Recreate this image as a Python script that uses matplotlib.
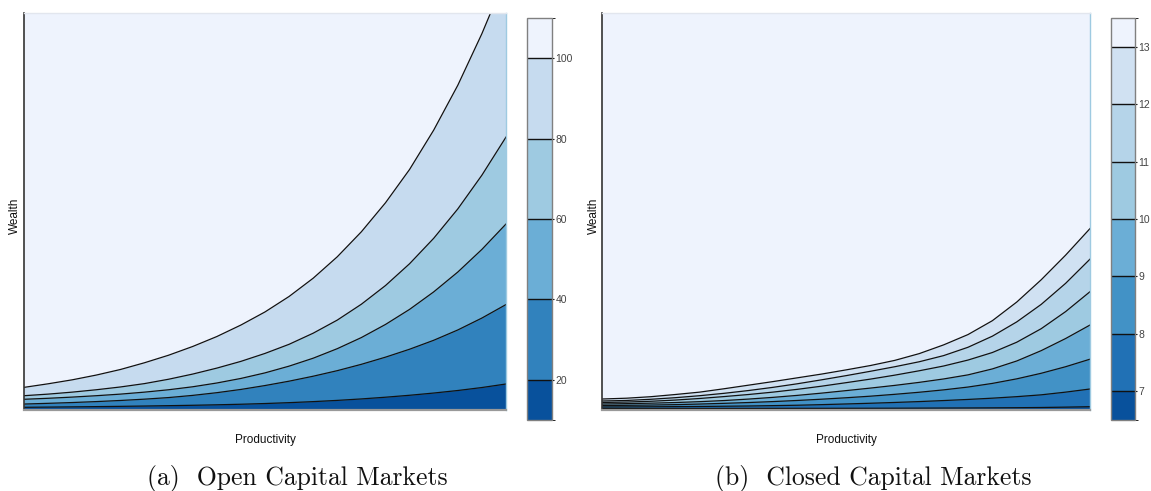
import numpy as np
import matplotlib
matplotlib.use("Agg")
import matplotlib.pyplot as plt
from matplotlib.colors import ListedColormap, BoundaryNorm
from matplotlib.cm import ScalarMappable

# ---------------------------------------------------------------------------
# Data: productivity grid (normalised) and wealth thresholds of each contour
# ---------------------------------------------------------------------------
productivity = [0.00, 0.05, 0.10, 0.15, 0.20, 0.25, 0.30, 0.35, 0.40, 0.45, 0.50,
                0.55, 0.60, 0.65, 0.70, 0.75, 0.80, 0.85, 0.90, 0.95, 1.00]

# (a) open capital markets: wealth at which the value reaches each level
open_levels = [20, 40, 60, 80, 100]
open_bounds = [10, 20, 40, 60, 80, 100, 110]
open_w20 = [0.0068, 0.0073, 0.0079, 0.0085, 0.0092, 0.0100, 0.0109, 0.0119, 0.0131, 0.0145, 0.0163,
            0.0185, 0.0211, 0.0242, 0.0279, 0.0322, 0.0371, 0.0427, 0.0491, 0.0566, 0.0655]
open_w40 = [0.0150, 0.0168, 0.0188, 0.0212, 0.0240, 0.0273, 0.0313, 0.0368, 0.0436, 0.0518, 0.0616,
            0.0726, 0.0851, 0.0991, 0.1151, 0.1331, 0.1531, 0.1756, 0.2016, 0.2316, 0.2656]
open_w60 = [0.0270, 0.0295, 0.0325, 0.0360, 0.0400, 0.0450, 0.0510, 0.0585, 0.0680, 0.0795, 0.0935,
            0.1105, 0.1305, 0.1545, 0.1825, 0.2155, 0.2535, 0.2975, 0.3475, 0.4045, 0.4685]
open_w80 = [0.0360, 0.0400, 0.0450, 0.0510, 0.0580, 0.0665, 0.0775, 0.0905, 0.1055, 0.1225, 0.1425,
            0.1655, 0.1935, 0.2265, 0.2665, 0.3135, 0.3685, 0.4325, 0.5065, 0.5915, 0.6875]
open_w100 = [0.057, 0.066, 0.076, 0.088, 0.102, 0.119, 0.138, 0.160, 0.185, 0.214, 0.247,
             0.286, 0.332, 0.386, 0.449, 0.522, 0.606, 0.705, 0.818, 0.948, 1.093]
open_colors = ["#08519c", "#3182bd", "#6baed6", "#9ecae1", "#c6dbef", "#eef3fd"]

# (b) closed capital markets
closed_levels = [7, 8, 9, 10, 11, 12, 13]
closed_bounds = [6.5, 7, 8, 9, 10, 11, 12, 13, 13.5]
closed_w7 = [0.0038, 0.0038, 0.0038, 0.0039, 0.0039, 0.0040, 0.0040, 0.0041, 0.0042, 0.0042, 0.0043,
             0.0044, 0.0045, 0.0047, 0.0049, 0.0051, 0.0054, 0.0058, 0.0063, 0.0072, 0.0083]
closed_w8 = [0.0076, 0.0078, 0.0081, 0.0085, 0.0089, 0.0095, 0.0101, 0.0110, 0.0120, 0.0135, 0.0152,
             0.0170, 0.0190, 0.0212, 0.0238, 0.0266, 0.0298, 0.0336, 0.0382, 0.0450, 0.0529]
closed_w9 = [0.0113, 0.0118, 0.0125, 0.0135, 0.0150, 0.0168, 0.0188, 0.0212, 0.0240, 0.0272, 0.0308,
             0.0348, 0.0395, 0.0447, 0.0507, 0.0578, 0.0670, 0.0785, 0.0925, 0.1090, 0.1280]
closed_w10 = [0.0151, 0.0160, 0.0172, 0.0188, 0.0210, 0.0238, 0.0275, 0.0318, 0.0368, 0.0425, 0.0488,
              0.0552, 0.0620, 0.0696, 0.0782, 0.0885, 0.1035, 0.1235, 0.1495, 0.1800, 0.2140]
closed_w11 = [0.0189, 0.0200, 0.0220, 0.0250, 0.0290, 0.0338, 0.0390, 0.0450, 0.0520, 0.0600, 0.0688,
              0.0778, 0.0878, 0.0988, 0.1108, 0.1258, 0.1448, 0.1708, 0.2048, 0.2478, 0.2980]
closed_w12 = [0.0227, 0.0240, 0.0270, 0.0310, 0.0360, 0.0420, 0.0490, 0.0570, 0.0660, 0.0760, 0.0865,
              0.0975, 0.1090, 0.1215, 0.1370, 0.1580, 0.1860, 0.2220, 0.2660, 0.3190, 0.3800]
closed_w13 = [0.0277, 0.0297, 0.0335, 0.0390, 0.0450, 0.0535, 0.0625, 0.0715, 0.0810, 0.0905, 0.1010,
              0.1120, 0.1250, 0.1420, 0.1640, 0.1900, 0.2250, 0.2720, 0.3280, 0.3900, 0.4570]
closed_colors = ["#08519c", "#2171b5", "#4292c6", "#6baed6", "#9ecae1", "#b5d4e9",
                 "#d0e1f2", "#eef3fd"]

W = 1151.0
H = 491.0
fig = plt.figure(figsize=(W / 100, H / 100), dpi=100)


def box(x0, y0, x1, y1):
    """Axes rectangle from pixel edges (top-left origin)."""
    return [x0 / W, 1 - y1 / H, (x1 - x0) / W, (y1 - y0) / H]


def draw_panel(ax, x, curves, colors):
    x = np.asarray(x)
    ax.set_facecolor(colors[-1])
    # paint from the highest contour downwards so bands never leave seams
    for c, col in reversed(list(zip(curves, colors[:-1]))):
        ax.fill_between(x, 0, np.asarray(c), color=col, lw=0, zorder=1)
    for c in curves:
        ax.plot(x, c, color="#111111", lw=0.9, zorder=2, solid_joinstyle="round")
    ax.set_xlim(0, 1)
    ax.set_ylim(0, 1)
    ax.set_xticks([])
    ax.set_yticks([])
    ax.spines["left"].set_color("#333333")
    ax.spines["left"].set_linewidth(1.2)
    ax.spines["bottom"].set_color("#999999")
    ax.spines["bottom"].set_linewidth(1.6)
    ax.spines["top"].set_color("#e2e6ee")
    ax.spines["top"].set_linewidth(1.0)
    ax.spines["right"].set_color("#9ecae1")
    ax.spines["right"].set_linewidth(1.0)


def draw_colorbar(cax, colors, bounds, levels):
    cmap = ListedColormap(colors)
    norm = BoundaryNorm(bounds, cmap.N)
    cb = fig.colorbar(ScalarMappable(norm=norm, cmap=cmap), cax=cax,
                      boundaries=bounds, spacing="proportional", ticks=levels)
    cb.outline.set_edgecolor("#808080")
    cb.outline.set_linewidth(1.0)
    for lv in levels:
        cax.axhline(lv, color="#111111", lw=1.0)
    cax.tick_params(length=1.5, width=0.8, color="#111111", pad=1.0,
                    labelsize=7.5, labelcolor="#444444")
    for t in cax.get_yticklabels():
        t.set_fontfamily("Liberation Sans")
    return cb


label_font = dict(family="Liberation Sans", size=8.5, color="#111111")
caption_font = dict(family="cmr10", size=18.5, color="#111111")

# (a) Open capital markets
ax_a = fig.add_axes(box(24, 13, 506, 410))
draw_panel(ax_a, productivity,
           [open_w20, open_w40, open_w60, open_w80, open_w100], open_colors)
cax_a = fig.add_axes(box(527, 18, 552, 420))
draw_colorbar(cax_a, open_colors, open_bounds, open_levels)
fig.text(15 / W, 1 - 216 / H, "Wealth", rotation=90, ha="center", va="center", **label_font)
fig.text(265 / W, 1 - 440 / H, "Productivity", ha="center", va="center", **label_font)
fig.text(297 / W, 1 - 478 / H, "(a)  Open Capital Markets", ha="center", va="center",
         **caption_font)

# (b) Closed capital markets
ax_b = fig.add_axes(box(602, 13, 1090, 410))
draw_panel(ax_b, productivity,
           [closed_w7, closed_w8, closed_w9, closed_w10, closed_w11, closed_w12, closed_w13],
           closed_colors)
cax_b = fig.add_axes(box(1111, 18, 1135, 420))
draw_colorbar(cax_b, closed_colors, closed_bounds, closed_levels)
fig.text(594 / W, 1 - 216 / H, "Wealth", rotation=90, ha="center", va="center", **label_font)
fig.text(846 / W, 1 - 440 / H, "Productivity", ha="center", va="center", **label_font)
fig.text(873 / W, 1 - 478 / H, "(b)  Closed Capital Markets", ha="center", va="center",
         **caption_font)

fig.savefig("out.png", dpi=100, facecolor="white")
